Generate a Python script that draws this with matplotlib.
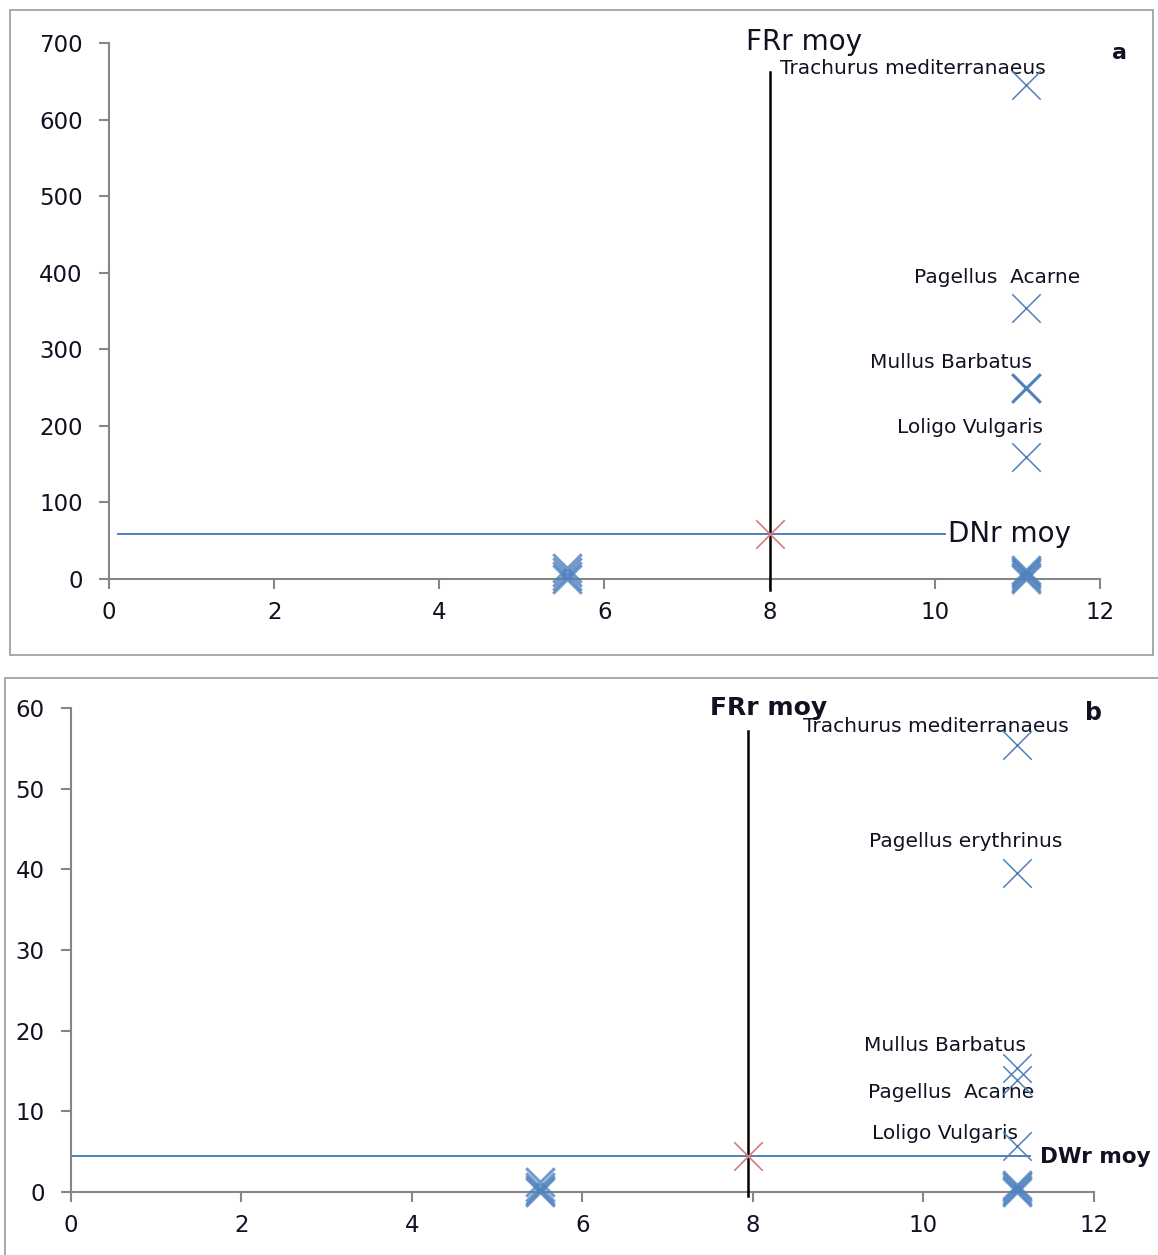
import matplotlib
matplotlib.use("Agg")
import matplotlib.pyplot as plt
from matplotlib.patches import Rectangle

# ========= données panneau a =========
a_species_x = [11.1, 11.1, 11.1, 11.1]
a_species_y = [645, 354, 249, 160]
a_species_names = ["Trachurus mediterranaeus", "Pagellus  Acarne", "Mullus Barbatus", "Loligo Vulgaris"]
a_label_x = [9.73, 10.75, 10.19, 10.42]
a_label_y = [667, 394, 283, 198]
a_low_x = [11.1, 11.1, 11.1, 11.1, 11.1, 5.55, 5.55, 5.55, 5.55]
a_low_y = [0, 3, 6, 9, 12, 0, 4, 9, 14]
a_mean_x = 8.0       # FRr moy
a_mean_y = 58.7      # DNr moy
a_xticks = [0, 2, 4, 6, 8, 10, 12]
a_yticks = [0, 100, 200, 300, 400, 500, 600, 700]

# ========= données panneau b =========
b_species_x = [11.1, 11.1, 11.1, 11.1, 11.1]
b_species_y = [55.4, 39.5, 15.4, 13.9, 5.7]
b_species_names = ["Trachurus mediterranaeus", "Pagellus erythrinus", "Mullus Barbatus",
                   "Pagellus  Acarne", "Loligo Vulgaris"]
b_label_x = [10.15, 10.5, 10.25, 10.32, 10.25]
b_label_y = [57.7, 43.5, 18.2, 12.3, 7.2]
b_low_x = [11.1, 11.1, 11.1, 11.1, 5.5, 5.5, 5.5, 5.5]
b_low_y = [0.0, 0.3, 0.6, 0.9, 0.0, 0.3, 0.6, 1.3]
b_mean_x = 7.94      # FRr moy
b_mean_y = 4.46      # DWr moy
b_xticks = [0, 2, 4, 6, 8, 10, 12]
b_yticks = [0, 10, 20, 30, 40, 50, 60]

BLUE = "#4f81bd"
RED = "#d97b78"
GREY = "#868686"
TXT = "#111122"

plt.rcParams.update({"font.family": "DejaVu Sans"})

fig = plt.figure(figsize=(11.58, 12.55), dpi=100)

# cadres des deux panneaux
fig.patches.append(Rectangle((0.0086, 0.478), 0.987, 0.514, transform=fig.transFigure,
                             fill=False, edgecolor="#999999", linewidth=1.2))
fig.patches.append(Rectangle((0.0043, -0.01), 1.02, 0.4698, transform=fig.transFigure,
                             fill=False, edgecolor="#999999", linewidth=1.2))


def style_axes(ax, xticks, yticks, xlim, ylim):
    ax.set_xlim(*xlim)
    ax.set_ylim(*ylim)
    ax.set_xticks(xticks)
    ax.set_yticks(yticks)
    for s in ["top", "right"]:
        ax.spines[s].set_visible(False)
    for s in ["left", "bottom"]:
        ax.spines[s].set_color(GREY)
        ax.spines[s].set_linewidth(1.5)
    ax.tick_params(direction="out", length=7, width=1.5, color=GREY,
                   labelsize=16.5, labelcolor=TXT)
    ax.tick_params(axis="x", pad=9)
    ax.tick_params(axis="y", pad=12)


# ========= panneau a =========
ax1 = fig.add_axes([0.0941, 0.5386, 0.8558, 0.4271])
style_axes(ax1, a_xticks, a_yticks, (0, 12), (0, 700))
ax1.plot([0.11, 10.12], [a_mean_y, a_mean_y], color=BLUE, lw=1.4, zorder=2)
ax1.plot([a_mean_x, a_mean_x], [-14, 662], color="black", lw=1.8, clip_on=False, zorder=3)
ax1.scatter(a_species_x, a_species_y, marker="x", s=420, color=BLUE, linewidths=1.1, zorder=4)
ax1.scatter([11.1], [249], marker="x", s=420, color=BLUE, linewidths=2.2, zorder=4)
ax1.scatter(a_low_x, a_low_y, marker="x", s=420, color=BLUE, linewidths=2.2, alpha=0.8,
            clip_on=False, zorder=4)
ax1.scatter([a_mean_x], [a_mean_y], marker="x", s=420, color=RED, linewidths=1.2, zorder=5)
for name, lx, ly in zip(a_species_names, a_label_x, a_label_y):
    ax1.text(lx, ly, name, ha="center", va="center", fontsize=14.5, color=TXT)
ax1.text(8.41, 701, "FRr moy", ha="center", va="center", fontsize=20, color=TXT, clip_on=False)
ax1.text(10.16, a_mean_y, "DNr moy", ha="left", va="center", fontsize=20, color=TXT)
ax1.text(12.14, 687, "a", ha="left", va="center", fontsize=16, fontweight="bold", color=TXT,
         clip_on=False)

# ========= panneau b =========
ax2 = fig.add_axes([0.0613, 0.0502, 0.8834, 0.3857])
style_axes(ax2, b_xticks, b_yticks, (0, 12), (0, 60))
ax2.plot([0, 11.25], [b_mean_y, b_mean_y], color=BLUE, lw=1.4, zorder=2)
ax2.plot([b_mean_x, b_mean_x], [-0.5, 57.2], color="black", lw=1.8, clip_on=False, zorder=3)
ax2.scatter(b_species_x, b_species_y, marker="x", s=420, color=BLUE, linewidths=1.1, zorder=4)
ax2.scatter(b_low_x, b_low_y, marker="x", s=420, color=BLUE, linewidths=2.2, alpha=0.8,
            clip_on=False, zorder=4)
ax2.scatter([b_mean_x], [b_mean_y], marker="x", s=420, color=RED, linewidths=1.2, zorder=5)
for name, lx, ly in zip(b_species_names, b_label_x, b_label_y):
    ax2.text(lx, ly, name, ha="center", va="center", fontsize=14.5, color=TXT)
ax2.text(8.18, 60.0, "FRr moy", ha="center", va="center", fontsize=18, fontweight="bold",
         color=TXT, clip_on=False)
ax2.text(11.37, 4.3, "DWr moy", ha="left", va="center", fontsize=15.5, fontweight="bold",
         color=TXT, clip_on=False)
ax2.text(12.0, 59.4, "b", ha="center", va="center", fontsize=17, fontweight="bold", color=TXT,
         clip_on=False)

fig.savefig("out.png", dpi=100)
